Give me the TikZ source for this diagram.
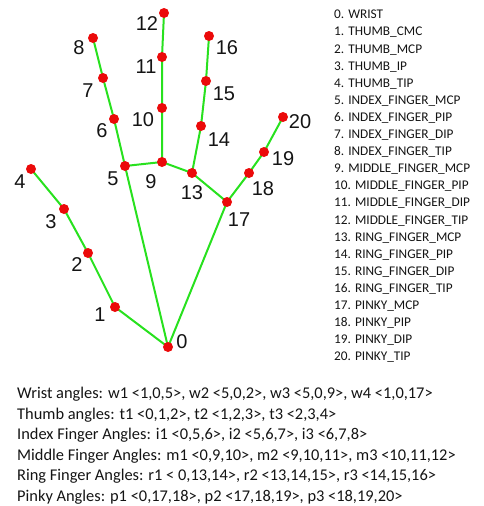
\documentclass[tikz,border=0pt]{standalone}
\usepackage{fontspec}
\setmainfont{Carlito}
\newfontfamily\numfont{Liberation Sans}
\definecolor{bonegreen}{RGB}{40,225,30}
\definecolor{jointred}{RGB}{235,10,10}
\definecolor{inkgray}{RGB}{20,20,20}

\begin{document}
\begin{tikzpicture}[x=1pt, y=-1pt,
    joint/.style={circle, fill=jointred, inner sep=0pt, minimum size=10pt},
    num/.style={font=\numfont\fontsize{20}{20}\selectfont, text=inkgray, inner sep=0pt},
    bone/.style={bonegreen, line width=2pt},
    listtext/.style={align=left, inner sep=0pt, text=inkgray, anchor=north west}
  ]
    \useasboundingbox (0,0) rectangle (484,506);

    % Landmarks
    \coordinate (p0) at (168,347);
    \coordinate (p1) at (115,307);
    \coordinate (p2) at (88,253);
    \coordinate (p3) at (64,209);
    \coordinate (p4) at (31,169);
    \coordinate (p5) at (125,166);
    \coordinate (p6) at (114,119);
    \coordinate (p7) at (103,78);
    \coordinate (p8) at (93,38);
    \coordinate (p9) at (162,162);
    \coordinate (p10) at (162,108);
    \coordinate (p11) at (162,57);
    \coordinate (p12) at (164,13);
    \coordinate (p13) at (192,173);
    \coordinate (p14) at (201,126);
    \coordinate (p15) at (206,81);
    \coordinate (p16) at (209,36);
    \coordinate (p17) at (227,202);
    \coordinate (p18) at (249,173);
    \coordinate (p19) at (264,152);
    \coordinate (p20) at (283,117);

    % Bones
    \draw[bone] (p0) -- (p1) -- (p2) -- (p3) -- (p4);
    \draw[bone] (p0) -- (p5) -- (p6) -- (p7) -- (p8);
    \draw[bone] (p5) -- (p9) -- (p10) -- (p11) -- (p12);
    \draw[bone] (p9) -- (p13) -- (p14) -- (p15) -- (p16);
    \draw[bone] (p13) -- (p17) -- (p18) -- (p19) -- (p20);
    \draw[bone] (p0) -- (p17);

    % Joints
    \foreach \i in {0,...,20}
      \node (j\i) [joint] at (p\i) {};

    % Joint numbers
    \node (n0) [num] at (182,342) {0};
    \node (n1) [num] at (100,315) {1};
    \node (n2) [num] at (77,265) {2};
    \node (n3) [num] at (51,222) {3};
    \node (n4) [num] at (20,182) {4};
    \node (n5) [num] at (113,179) {5};
    \node (n6) [num] at (102,131) {6};
    \node (n7) [num] at (88,91) {7};
    \node (n8) [num] at (79,48) {8};
    \node (n9) [num] at (151,182) {9};
    \node (n10) [num] at (143,120) {10};
    \node (n11) [num] at (146,67) {11};
    \node (n12) [num] at (147,24) {12};
    \node (n13) [num] at (192,193) {13};
    \node (n14) [num] at (219,140) {14};
    \node (n15) [num] at (224,94) {15};
    \node (n16) [num] at (227,48) {16};
    \node (n17) [num] at (239,220) {17};
    \node (n18) [num] at (263,189) {18};
    \node (n19) [num] at (283,159) {19};
    \node (n20) [num] at (300,122) {20};

    % Landmark names
    \node (names) [listtext, font=\fontsize{13.3}{17.1}\selectfont] at (334,10) {%
      0. WRIST\\
      1. THUMB\_CMC\\
      2. THUMB\_MCP\\
      3. THUMB\_IP\\
      4. THUMB\_TIP\\
      5. INDEX\_FINGER\_MCP\\
      6. INDEX\_FINGER\_PIP\\
      7. INDEX\_FINGER\_DIP\\
      8. INDEX\_FINGER\_TIP\\
      9. MIDDLE\_FINGER\_MCP\\
      10. MIDDLE\_FINGER\_PIP\\
      11. MIDDLE\_FINGER\_DIP\\
      12. MIDDLE\_FINGER\_TIP\\
      13. RING\_FINGER\_MCP\\
      14. RING\_FINGER\_PIP\\
      15. RING\_FINGER\_DIP\\
      16. RING\_FINGER\_TIP\\
      17. PINKY\_MCP\\
      18. PINKY\_PIP\\
      19. PINKY\_DIP\\
      20. PINKY\_TIP};

    % Angle triples
    \node (angles) [listtext, font=\fontsize{16.4}{20.6}\selectfont] at (17,387) {%
      Wrist angles: w1 <1,0,5>, w2 <5,0,2>, w3 <5,0,9>, w4 <1,0,17>\\
      Thumb angles: t1 <0,1,2>, t2 <1,2,3>, t3 <2,3,4>\\
      Index Finger Angles: i1 <0,5,6>, i2 <5,6,7>, i3 <6,7,8>\\
      Middle Finger Angles: m1 <0,9,10>, m2 <9,10,11>, m3 <10,11,12>\\
      Ring Finger Angles: r1 < 0,13,14>, r2 <13,14,15>, r3 <14,15,16>\\
      Pinky Angles: p1 <0,17,18>, p2 <17,18,19>, p3 <18,19,20>};
\end{tikzpicture}
\end{document}
